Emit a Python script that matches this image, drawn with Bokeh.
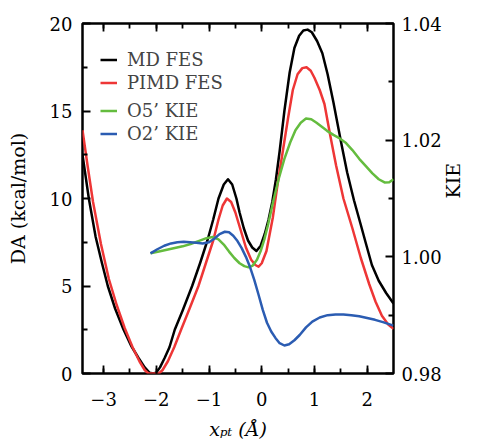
import math
from bokeh.plotting import figure
from bokeh.models import (Range1d, LinearAxis, FixedTicker, CustomJSTickFormatter,
                          NumeralTickFormatter, Legend, LegendItem)
from bokeh.embed import file_html
from bokeh.resources import INLINE

# ---- data ----
md_x = [-3.40, -3.28, -3.15, -3.03, -2.92, -2.78, -2.62, -2.48, -2.34, -2.22,
        -2.13, -2.06, -2.00, -1.93, -1.84, -1.75, -1.65, -1.50, -1.32, -1.17,
        -1.03, -0.92, -0.82, -0.72, -0.64, -0.56, -0.48, -0.42, -0.34, -0.26,
        -0.18, -0.10, -0.02, 0.06, 0.13, 0.20, 0.27, 0.34, 0.43, 0.53,
        0.62, 0.71, 0.79, 0.87, 0.95, 1.05, 1.15, 1.25, 1.36, 1.50,
        1.62, 1.75, 1.87, 1.97, 2.09, 2.22, 2.36, 2.50]
md_y = [12.5, 10.0, 7.8, 6.3, 5.0, 3.7, 2.5, 1.6, 0.9, 0.35,
        0.05, 0.0, 0.05, 0.35, 0.9, 1.5, 2.5, 3.6, 5.0, 6.3,
        7.6, 8.8, 10.0, 10.8, 11.1, 10.8, 10.0, 9.2, 8.3, 7.6,
        7.2, 7.0, 7.3, 8.0, 8.8, 9.8, 11.1, 12.7, 15.0, 17.2,
        18.6, 19.3, 19.6, 19.65, 19.5, 19.0, 18.3, 17.1, 15.5, 13.3,
        11.5, 9.9, 8.6, 7.5, 6.2, 5.3, 4.6, 4.0]

pimd_x = [-3.40, -3.30, -3.20, -3.05, -2.90, -2.75, -2.60, -2.45, -2.32, -2.22,
          -2.15, -2.05, -1.95, -1.88, -1.78, -1.66, -1.53, -1.37, -1.20, -1.06,
          -0.92, -0.82, -0.74, -0.66, -0.58, -0.50, -0.40, -0.30, -0.20, -0.12,
          -0.06, 0.00, 0.09, 0.21, 0.30, 0.40, 0.50, 0.59, 0.68, 0.77,
          0.85, 0.93, 1.00, 1.10, 1.19, 1.30, 1.41, 1.55, 1.72, 1.88,
          2.04, 2.16, 2.28, 2.40, 2.50]
pimd_y = [13.9, 11.8, 9.8, 7.4, 5.4, 3.9, 2.6, 1.5, 0.7, 0.2,
          0.0, 0.0, 0.0, 0.2, 0.7, 1.5, 2.5, 3.7, 5.0, 6.3,
          7.6, 8.8, 9.6, 10.0, 9.8, 9.2, 8.2, 7.2, 6.5, 6.2,
          6.1, 6.3, 7.0, 8.9, 10.8, 12.7, 14.6, 16.2, 17.1, 17.45,
          17.5, 17.3, 16.9, 16.2, 15.4, 13.6, 11.9, 10.0, 8.3, 6.6,
          5.1, 4.1, 3.3, 2.8, 2.55]

o5_x = [-2.11, -1.95, -1.80, -1.65, -1.50, -1.35, -1.20, -1.05, -0.93, -0.82,
        -0.72, -0.62, -0.52, -0.42, -0.33, -0.25, -0.17, -0.09, -0.02, 0.05,
        0.12, 0.21, 0.32, 0.43, 0.54, 0.64, 0.74, 0.84, 0.94, 1.04,
        1.14, 1.24, 1.36, 1.48, 1.60, 1.72, 1.85, 1.98, 2.10, 2.22,
        2.33, 2.42, 2.50]
o5_kie = [1.0006, 1.0009, 1.0012, 1.0015, 1.0018, 1.0022, 1.0027, 1.0032, 1.0034, 1.0030,
          1.0021, 1.0009, 0.9998, 0.9989, 0.9984, 0.9982, 0.9985, 0.9995, 1.0010, 1.0030,
          1.0055, 1.0092, 1.0133, 1.0168, 1.0196, 1.0217, 1.0230, 1.0237, 1.0236, 1.0230,
          1.0223, 1.0216, 1.0209, 1.0203, 1.0195, 1.0183, 1.0168, 1.0155, 1.0143, 1.0133,
          1.01275, 1.0128, 1.0133]

o2_x = [-2.11, -1.98, -1.85, -1.72, -1.60, -1.48, -1.36, -1.24, -1.12, -1.00,
        -0.90, -0.80, -0.70, -0.62, -0.54, -0.46, -0.38, -0.30, -0.22, -0.14,
        -0.06, 0.02, 0.10, 0.18, 0.26, 0.34, 0.43, 0.52, 0.62, 0.72,
        0.84, 0.96, 1.10, 1.25, 1.40, 1.55, 1.70, 1.85, 2.00, 2.15,
        2.30, 2.50]
o2_kie = [1.0006, 1.0013, 1.0019, 1.0023, 1.0025, 1.0026, 1.0025, 1.0024, 1.0023, 1.0025,
          1.0031, 1.0039, 1.0043, 1.0042, 1.0036, 1.0027, 1.0015, 1.0000, 0.9982, 0.9960,
          0.9935, 0.9909, 0.9887, 0.9872, 0.9861, 0.9852, 0.9848, 0.9850, 0.9857, 0.9866,
          0.9879, 0.9889, 0.9896, 0.9900, 0.9901, 0.9901, 0.9900, 0.9898, 0.9895, 0.9892,
          0.9888, 0.9882]

x_ticks = [-3, -2, -1, 0, 1, 2]
x_minor = [-3.0, -2.5, -2.0, -1.5, -1.0, -0.5, 0.0, 0.5, 1.0, 1.5, 2.0]
y_ticks = [0, 5, 10, 15, 20]
y_minor = [2.5, 7.5, 12.5, 17.5]
kie_ticks = [0.98, 1.00, 1.02, 1.04]
kie_minor = [0.99, 1.01, 1.03]

FONT = "DejaVu Serif"
C_MD, C_PIMD, C_O5, C_O2 = "#000000", "#ee3636", "#64bc3e", "#2b5cb2"

p = figure(width=477, height=448, output_backend="svg", toolbar_location=None,
           x_range=Range1d(-3.4, 2.5), y_range=Range1d(0, 20),
           min_border_left=82, min_border_right=82, min_border_top=23, min_border_bottom=75)
p.extra_y_ranges = {"kie": Range1d(0.98, 1.04)}
p.xgrid.visible = False
p.ygrid.visible = False
p.outline_line_color = "black"
p.outline_line_width = 2.5
p.background_fill_color = "white"
p.border_fill_color = "white"

def style_axis(ax):
    ax.axis_line_color = None
    ax.major_tick_in = 8
    ax.major_tick_out = 0
    ax.minor_tick_in = 5
    ax.minor_tick_out = 0
    ax.major_tick_line_width = 1.8
    ax.minor_tick_line_width = 1.8
    ax.major_tick_line_color = "black"
    ax.minor_tick_line_color = "black"
    ax.major_label_text_font = FONT
    ax.major_label_text_font_size = "18px"
    ax.major_label_text_color = "black"
    ax.major_label_standoff = 10
    ax.axis_label_text_font = FONT
    ax.axis_label_text_font_size = "19px"
    ax.axis_label_text_font_style = "normal"
    ax.axis_label_text_color = "black"

xax = p.xaxis[0]
xax.ticker = FixedTicker(ticks=x_ticks, minor_ticks=x_minor)
xax.formatter = CustomJSTickFormatter(code="return tick < 0 ? '\u2212' + Math.abs(tick) : String(tick);")
style_axis(xax)
xax.major_label_standoff = 18
xax.axis_label = "x\u209a\u209c (\u00c5)"
xax.axis_label_text_font_style = "italic"
xax.axis_label_standoff = 9

yax = p.yaxis[0]
yax.ticker = FixedTicker(ticks=y_ticks, minor_ticks=y_minor)
style_axis(yax)
yax.major_label_standoff = 10
yax.axis_label = "DA (kcal/mol)"
yax.axis_label_standoff = 18

top = LinearAxis(ticker=FixedTicker(ticks=x_ticks, minor_ticks=x_minor),
                 formatter=CustomJSTickFormatter(code="return '';"))
style_axis(top)
top.major_label_text_font_size = "10px"
top.major_label_standoff = 0
p.add_layout(top, "above")

rax = LinearAxis(y_range_name="kie", ticker=FixedTicker(ticks=kie_ticks, minor_ticks=kie_minor),
                 formatter=NumeralTickFormatter(format="0.00"))
style_axis(rax)
rax.major_label_standoff = 8
rax.axis_label = "KIE"
rax.axis_label_standoff = 8
if "axis_label_orientation" in rax.properties():
    rax.axis_label_orientation = math.pi / 2
p.add_layout(rax, "right")

lw = 2.5
r_md = p.line(md_x, md_y, line_color=C_MD, line_width=lw, line_join="round")
r_pimd = p.line(pimd_x, pimd_y, line_color=C_PIMD, line_width=lw, line_join="round")
r_o5 = p.line(o5_x, o5_kie, line_color=C_O5, line_width=lw, line_join="round", y_range_name="kie")
r_o2 = p.line(o2_x, o2_kie, line_color=C_O2, line_width=lw, line_join="round", y_range_name="kie")

def make_legend(items, loc):
    return Legend(items=items, location=loc, padding=0, margin=0, spacing=0,
                  glyph_width=17, glyph_height=23, label_height=23, label_standoff=10,
                  label_text_font=FONT, label_text_font_size="18px",
                  border_line_color=None, background_fill_alpha=0)

p.add_layout(make_legend([LegendItem(label="MD FES", renderers=[r_md]),
                          LegendItem(label="PIMD FES", renderers=[r_pimd])], (18, 279.5)))
p.add_layout(make_legend([LegendItem(label="O5\u2019 KIE", renderers=[r_o5]),
                          LegendItem(label="O2\u2019 KIE", renderers=[r_o2])], (18, 228.5)))

open("out.html", "w").write(file_html(p, INLINE))
